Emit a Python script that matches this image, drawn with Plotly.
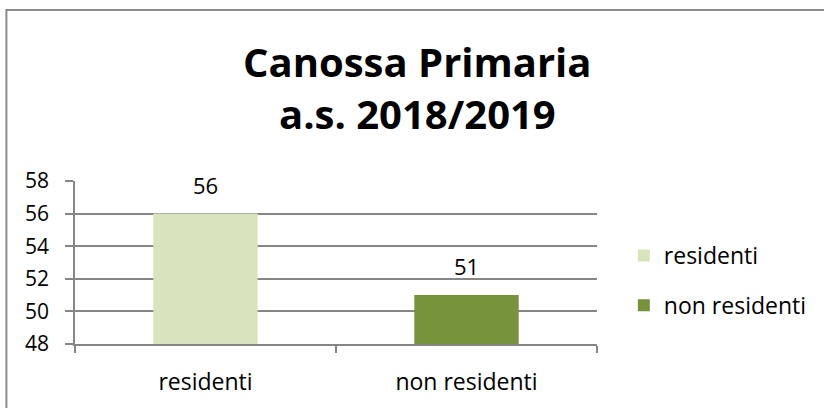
import plotly.graph_objects as go

categories = ["residenti", "non residenti"]
values = [56, 51]
colors = ["#D7E4BD", "#77933C"]
y_ticks = [48, 50, 52, 54, 56, 58]
title_lines = ["Canossa Primaria", "a.s. 2018/2019"]

W, H = 824, 408
L, R, T, B = 75, 600, 181, 344

def py(pix):
    return (B - pix) / (B - T)

def px(pix):
    return (pix - L) / (R - L)

font = "'Open Sans', Lato, sans-serif"

fig = go.Figure()
for i, (c, v) in enumerate(zip(categories, values)):
    fig.add_trace(go.Bar(
        x=[c], y=[v], name=c, marker_color=colors[i], marker_line_width=0,
        legendgroup=c, hoverinfo="skip",
    ))

annotations = []
for c, v in zip(categories, values):
    annotations.append(dict(x=c, y=v, xref="x", yref="y", text=str(v), showarrow=False,
                            yanchor="bottom", yshift=12,
                            font=dict(size=22, family=font, color="#000000")))
title_centers = [61, 114]
for txt, yc in zip(title_lines, title_centers):
    annotations.append(dict(x=px(419), y=py(yc), xref="paper", yref="paper",
                            text="<b>" + txt + "</b>", showarrow=False,
                            xanchor="center", yanchor="middle",
                            font=dict(size=40, family=font, color="#000000")))

fig.update_layout(
    width=W, height=H,
    margin=dict(l=L, r=W - R, t=T, b=H - B, pad=0),
    paper_bgcolor="white", plot_bgcolor="white",
    barmode="relative", bargap=0.6,
    font=dict(family=font, size=21, color="#000000"),
    legend=dict(x=px(627), xanchor="left", y=py(234), yanchor="top",
                font=dict(size=23), tracegroupgap=17, itemwidth=30,
                bgcolor="rgba(0,0,0,0)"),
    showlegend=True,
    annotations=annotations,
    xaxis=dict(categoryorder="array", categoryarray=categories,
               showline=True, linecolor="#868686", linewidth=1.5,
               ticks="outside", tickson="boundaries", ticklen=7, tickcolor="#868686",
               tickwidth=1.5, ticklabelstandoff=17, showgrid=False,
               tickfont=dict(size=23)),
    yaxis=dict(range=[48, 58], tickvals=y_ticks, showline=True, linecolor="#868686",
               linewidth=1.5, ticks="outside", ticklen=8, tickcolor="#868686",
               tickwidth=1.5, showgrid=True, gridcolor="#868686", gridwidth=1.5,
               ticklabelstandoff=12, zeroline=False),
    shapes=[dict(type="rect", xref="paper", yref="paper",
                 x0=px(6), x1=2.0, y0=-1.0, y1=py(10),
                 line=dict(color="#8C8C8C", width=2), fillcolor="rgba(0,0,0,0)")],
)

fig.write_html("out.html", config={"displayModeBar": False},
               post_script="document.body.style.margin='0';document.body.style.overflow='hidden';")
